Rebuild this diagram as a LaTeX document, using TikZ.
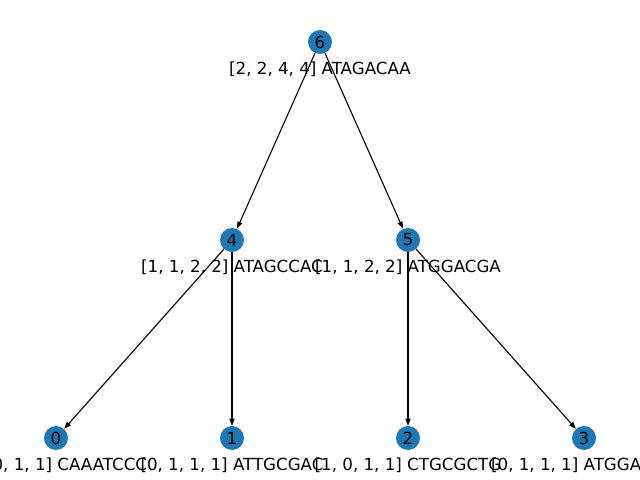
\documentclass[tikz,border=0pt]{standalone}
\usepackage{fontspec}
\setmainfont{DejaVu Sans}
\usetikzlibrary{arrows.meta}
\begin{document}
\begin{tikzpicture}[x=0.72bp,y=-0.72bp,
  vert/.style={circle,fill={rgb,255:red,31;green,119;blue,180},minimum size=24*0.72bp,inner sep=0pt,font=\fontsize{12bp}{14bp}\selectfont},
  lab/.style={font=\fontsize{12bp}{14bp}\selectfont,inner sep=0pt},
  edge/.style={-{Triangle[length=7*0.72bp,width=5*0.72bp]},line width=0.8bp,shorten >=0pt}]
\useasboundingbox (0,0) rectangle (640,480);
\clip (0,0) rectangle (640,480);
\node[vert] (n6) at (320,42) {6};
\node[vert] (n4) at (232,240) {4};
\node[vert] (n5) at (408,240) {5};
\node[vert] (n0) at (56,438) {0};
\node[vert] (n1) at (232,438) {1};
\node[vert] (n2) at (408,438) {2};
\node[vert] (n3) at (584,438) {3};
\draw[edge] (n6) -- (n4);
\draw[edge] (n6) -- (n5);
\draw[edge] (n4) -- (n0);
\draw[edge] (n4) -- (n1);
\draw[edge] (n5) -- (n2);
\draw[edge] (n5) -- (n3);
\node[lab] (l6) at (320,69) {[2, 2, 4, 4] ATAGACAA};
\node[lab] (l4) at (232,267) {[1, 1, 2, 2] ATAGCCAC};
\node[lab] (l5) at (408,267) {[1, 1, 2, 2] ATGGACGA};
\node[lab] (l0) at (56,465) {[1, 0, 1, 1] CAAATCCC};
\node[lab] (l1) at (232,465) {[0, 1, 1, 1] ATTGCGAC};
\node[lab] (l2) at (408,465) {[1, 0, 1, 1] CTGCGCTG};
\node[lab] (l3) at (584,465) {[0, 1, 1, 1] ATGGACGA};
\end{tikzpicture}
\end{document}
